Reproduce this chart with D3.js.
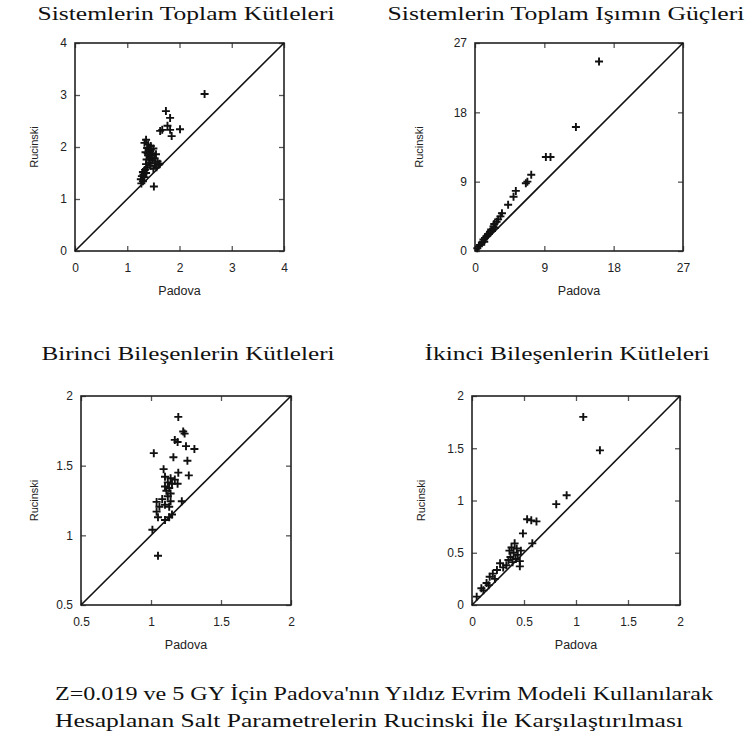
<!DOCTYPE html>
<html><head><meta charset="utf-8">
<script src="https://cdn.jsdelivr.net/npm/d3@7"></script>
<style>body{margin:0;background:#fff}svg{display:block}</style>
</head><body>
<script>
// ---------- DATA ----------
const titles = ["Sistemlerin Toplam Kütleleri","Sistemlerin Toplam Işımın Güçleri","Birinci Bileşenlerin Kütleleri","İkinci Bileşenlerin Kütleleri"];
const xLabel = "Padova";
const yLabel = "Rucinski";
const caption = ["Z=0.019 ve 5 GY İçin Padova'nın Yıldız Evrim Modeli Kullanılarak","Hesaplanan Salt Parametrelerin Rucinski İle Karşılaştırılması"];
const ticks1 = [0,1,2,3,4];
const ticks2 = [0,9,18,27];
const ticks3 = [0.5,1,1.5,2];
const ticks4 = [0,0.5,1,1.5,2];
const tickLabels3 = ["0.5","1","1.5","2"];
const tickLabels4 = ["0","0.5","1","1.5","2"];
// [Padova, Rucinski]
const totalMass = [[2.48,3.02],[1.74,2.69],[1.82,2.56],[1.77,2.41],[1.63,2.31],[1.67,2.33],[1.82,2.33],[2.01,2.34],[1.85,2.21],[1.36,2.14],[1.33,2.08],[1.40,2.05],[1.45,2.02],[1.38,1.98],[1.50,1.97],[1.42,1.93],[1.35,1.90],[1.47,1.88],[1.55,1.86],[1.40,1.84],[1.44,1.80],[1.52,1.78],[1.37,1.76],[1.48,1.74],[1.58,1.72],[1.42,1.70],[1.53,1.69],[1.60,1.66],[1.45,1.64],[1.56,1.61],[1.38,1.60],[1.34,1.56],[1.50,1.58],[1.30,1.52],[1.36,1.50],[1.31,1.47],[1.28,1.44],[1.33,1.42],[1.26,1.38],[1.30,1.34],[1.27,1.30],[1.51,1.24],[1.62,1.68],[1.45,1.95],[1.39,1.88],[1.43,1.76],[1.36,1.67],[1.47,1.84]];
const luminosity = [[16.1,24.6],[13.1,16.1],[9.2,12.2],[9.8,12.2],[6.6,8.8],[6.8,9.0],[7.3,9.9],[5.3,7.8],[5.0,7.05],[4.3,6.0],[3.5,4.9],[3.3,4.5],[3.0,4.1],[2.8,3.8],[2.5,3.5],[2.4,3.2],[2.1,2.8],[1.95,2.5],[1.7,2.2],[1.5,1.9],[1.3,1.7],[1.1,1.5],[1.2,1.2],[0.9,1.1],[0.65,0.8],[0.5,0.6],[0.3,0.35],[1.6,2.0],[2.2,2.6],[2.6,3.0]];
const primaryMass = [[1.195,1.85],[1.23,1.745],[1.24,1.73],[1.17,1.685],[1.19,1.67],[1.25,1.64],[1.31,1.62],[1.02,1.59],[1.16,1.56],[1.26,1.535],[1.09,1.475],[1.195,1.45],[1.27,1.43],[1.10,1.42],[1.14,1.41],[1.17,1.40],[1.12,1.38],[1.15,1.37],[1.19,1.37],[1.10,1.35],[1.13,1.34],[1.11,1.32],[1.12,1.28],[1.14,1.30],[1.04,1.24],[1.14,1.245],[1.22,1.245],[1.06,1.205],[1.13,1.205],[1.10,1.22],[1.04,1.17],[1.05,1.13],[1.13,1.13],[1.10,1.11],[1.15,1.15],[1.01,1.04],[1.05,0.854],[1.08,1.26]];
const secondaryMass = [[1.07,1.80],[1.23,1.48],[0.91,1.05],[0.81,0.965],[0.53,0.82],[0.57,0.81],[0.62,0.80],[0.49,0.685],[0.58,0.59],[0.41,0.59],[0.38,0.55],[0.43,0.54],[0.36,0.52],[0.47,0.52],[0.40,0.50],[0.44,0.48],[0.37,0.46],[0.42,0.44],[0.35,0.43],[0.46,0.42],[0.39,0.41],[0.46,0.37],[0.27,0.40],[0.30,0.36],[0.24,0.335],[0.20,0.30],[0.17,0.27],[0.22,0.25],[0.14,0.21],[0.16,0.19],[0.09,0.16],[0.11,0.14],[0.045,0.08],[0.33,0.38]];

// ---------- LAYOUT ----------
const W = 746, H = 740;
const svg = d3.select("body").append("svg").attr("width", W).attr("height", H);

const panels = [
  {data: totalMass, dom:[0,4], ticks:ticks1, fmt:d=>String(d), box:[75,43,284,251], title:titles[0], tx:186, ty:20, tw:297, ylx:38},
  {data: luminosity, dom:[0,27], ticks:ticks2, fmt:d=>String(d), box:[475,43,683,251], title:titles[1], tx:566, ty:20, tw:357, ylx:423},
  {data: primaryMass, dom:[0.5,2], ticks:ticks3, fmt:(d,i)=>tickLabels3[i], box:[81,396,291,605], title:titles[2], tx:188, ty:360, tw:293, ylx:38},
  {data: secondaryMass, dom:[0,2], ticks:ticks4, fmt:(d,i)=>tickLabels4[i], box:[472,396,680,605], title:titles[3], tx:567, ty:360, tw:285, ylx:425}
];

const serif = "'Liberation Serif','DejaVu Serif',serif";
const sans = "'Liberation Sans','DejaVu Sans',sans-serif";

panels.forEach(p => {
  const [x0,y0,x1,y1] = p.box;
  const x = d3.scaleLinear().domain(p.dom).range([x0,x1]);
  const y = d3.scaleLinear().domain(p.dom).range([y1,y0]);
  const g = svg.append("g");

  g.append("text").attr("x", p.tx).attr("y", p.ty).attr("text-anchor","middle")
    .attr("font-family", serif).attr("font-size", 19).attr("fill","#111")
    .attr("textLength", p.tw).attr("lengthAdjust","spacingAndGlyphs").text(p.title);

  const tl = 5;
  g.append("g").attr("transform",`translate(0,${y1})`)
    .call(d3.axisBottom(x).tickValues(p.ticks).tickSize(-tl).tickPadding(12).tickFormat(p.fmt))
    .call(a=>{a.select(".domain").remove();});
  g.append("g").attr("transform",`translate(0,${y0})`)
    .call(d3.axisTop(x).tickValues(p.ticks).tickSize(-tl).tickFormat(""))
    .call(a=>{a.select(".domain").remove();});
  g.append("g").attr("transform",`translate(${x0},0)`)
    .call(d3.axisLeft(y).tickValues(p.ticks).tickSize(-tl).tickPadding(8).tickFormat(p.fmt))
    .call(a=>{a.select(".domain").remove();});
  g.append("g").attr("transform",`translate(${x1},0)`)
    .call(d3.axisRight(y).tickValues(p.ticks).tickSize(-tl).tickFormat(""))
    .call(a=>{a.select(".domain").remove();});
  g.selectAll(".tick line").attr("stroke","#555").attr("stroke-width",1.3);
  g.selectAll(".tick text").attr("font-family", sans).attr("font-size", 12).attr("fill","#222");

  g.append("rect").attr("x",x0).attr("y",y0).attr("width",x1-x0).attr("height",y1-y0)
    .attr("fill","none").attr("stroke","#222").attr("stroke-width",1.6);

  g.append("line").attr("x1",x(p.dom[0])).attr("y1",y(p.dom[0])).attr("x2",x(p.dom[1])).attr("y2",y(p.dom[1]))
    .attr("stroke","#111").attr("stroke-width",1.6);

  const s = 4;
  g.append("g").selectAll("path").data(p.data).join("path")
    .attr("d", d => `M${x(d[0])-s},${y(d[1])}h${2*s}M${x(d[0])},${y(d[1])-s}v${2*s}`)
    .attr("stroke","#111").attr("stroke-width",1.9).attr("fill","none");

  g.append("text").attr("x",(x0+x1)/2).attr("y",y1+44).attr("text-anchor","middle")
    .attr("font-family",sans).attr("font-size",12.5).attr("fill","#222").text(xLabel);
  g.append("text").attr("transform",`translate(${p.ylx},${(y0+y1)/2}) rotate(-90)`).attr("text-anchor","middle")
    .attr("font-family",sans).attr("font-size",11).attr("fill","#222").text(yLabel);
});

svg.append("text").attr("x",55).attr("y",700).attr("font-family",serif).attr("font-size",19).attr("fill","#111")
  .attr("textLength",658).attr("lengthAdjust","spacingAndGlyphs").text(caption[0]);
svg.append("text").attr("x",55).attr("y",727).attr("font-family",serif).attr("font-size",19).attr("fill","#111")
  .attr("textLength",628).attr("lengthAdjust","spacingAndGlyphs").text(caption[1]);
</script>
</body></html>
